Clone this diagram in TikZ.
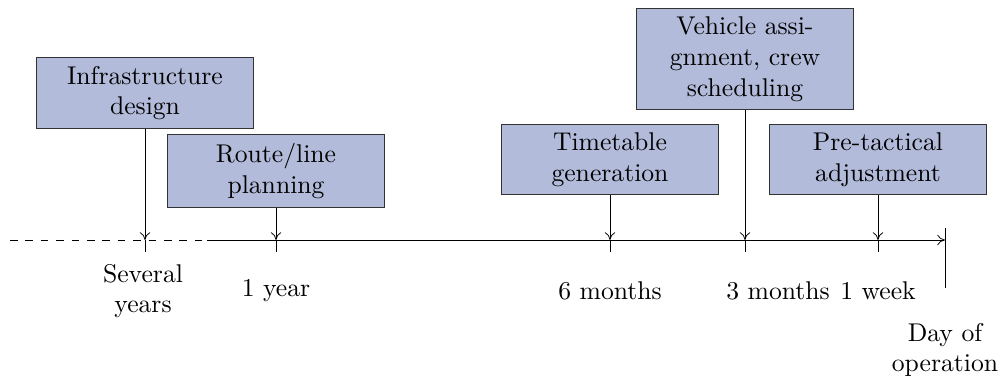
\documentclass[tikz,border=0pt]{standalone}
\usetikzlibrary{arrows.meta}
\definecolor{phasefill}{RGB}{178,187,218}
\begin{document}
\begin{tikzpicture}[x=0.38986pt, y=-0.38986pt, >={To[length=3pt,width=4pt]},
  phase/.style={draw=black!80, fill=phasefill, align=center,
                text width=78pt, inner sep=3.33pt},
  lbl/.style={align=center, inner sep=0pt},
  axisline/.style={line width=0.3pt}]
\useasboundingbox (0,0) rectangle (1000,381);

% points on the time axis
\coordinate (t1) at (145,240);
\coordinate (t2) at (276,240);
\coordinate (t3) at (610,240);
\coordinate (t4) at (745,240);
\coordinate (t5) at (878,240);
\coordinate (tend) at (945,240);
\coordinate (a0) at (10,240);
\coordinate (a1) at (207,240);
\coordinate (e0) at (945,228);
\coordinate (e1) at (945,288);

% planning phases
\node[phase] (infra)   at (145,93)    {Infrastructure\\design};
\node[phase] (route)   at (276,171)   {Route/line\\planning};
\node[phase] (timet)   at (610,159.5) {Timetable\\generation};
\node[phase] (vehicle) at (745,59)    {Vehicle assi-\\gnment, crew\\scheduling};
\node[phase] (pretac)  at (878,159.5) {Pre-tactical\\adjustment};

% time axis
\draw[axisline, dashed] (a0) -- (a1);
\draw[axisline, ->] (a1) -- (tend);
\draw[axisline] (e0) -- (e1);

% connectors and ticks
\foreach \b/\t in {infra/t1, route/t2, timet/t3, vehicle/t4, pretac/t5} {
  \draw[axisline, ->] (\b) -- (\t);
  \draw[axisline] (\t) -- ++(0,12);
}

% time labels
\node[lbl] (l1) at (143,291) {Several\\years};
\node[lbl] (l2) at (276,291) {1 year};
\node[lbl] (l3) at (610,291) {6 months};
\node[lbl] (l4) at (778,291) {3 months};
\node[lbl] (l5) at (878,291) {1 week};
\node[lbl] (l6) at (945,350) {Day of\\operation};
\end{tikzpicture}
\end{document}
